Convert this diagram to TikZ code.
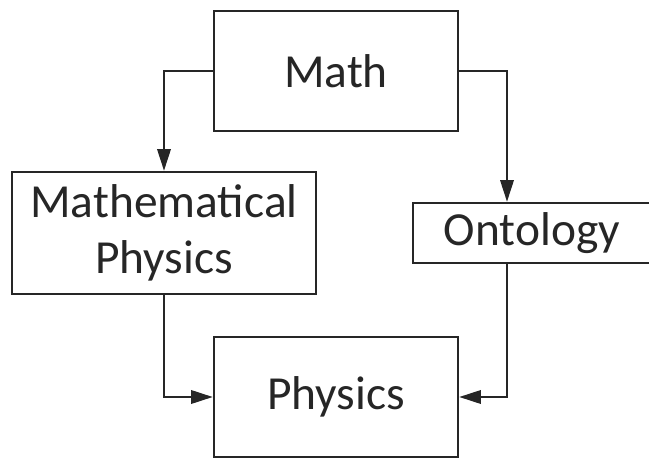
\documentclass[tikz,border=0pt]{standalone}
\usepackage{fontspec}
\setmainfont{Carlito}
\usetikzlibrary{arrows.meta}
\definecolor{ink}{HTML}{262626}
\tikzset{
  box/.style={draw=ink, line width=2pt, text=ink, inner sep=0pt,
    font=\fontsize{40.5}{48}\selectfont, align=center},
  link/.style={draw=ink, line width=2pt,
    -{Triangle[length=6.5mm,width=4mm]}}
}
\begin{document}
\begin{tikzpicture}[x=0.03cm, y=-0.03cm]
  \useasboundingbox (0,0) rectangle (649,459);

  \node[box, minimum width=7.32cm, minimum height=3.6cm] (math) at (336,71) {Math};
  \node[box, minimum width=9.12cm, minimum height=3.66cm] (mphys) at (164,233) {Mathematical\\Physics};
  \node[box, minimum width=7.14cm, minimum height=1.8cm] (onto) at (532,233) {Ontology};
  \node[box, minimum width=7.32cm, minimum height=3.6cm] (phys) at (336,397) {Physics};

  \coordinate (ontoin) at ([xshift=-0.75cm]onto.north);
  \coordinate (ontoout) at ([xshift=-0.75cm]onto.south);

  \draw[link] (math.west) -| (mphys.north);
  \draw[link] (math.east) -| (ontoin);
  \draw[link] (mphys.south) |- (phys.west);
  \draw[link] (ontoout) |- (phys.east);
\end{tikzpicture}
\end{document}
